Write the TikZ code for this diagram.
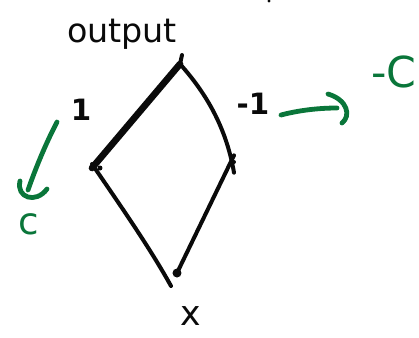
\documentclass[tikz,border=0pt]{standalone}
\usepackage{fontspec}
\setmainfont{DejaVu Sans}
\definecolor{ink}{RGB}{10,10,10}
\definecolor{grn}{RGB}{10,118,58}
\begin{document}
\begin{tikzpicture}[x=0.75pt,y=-0.75pt,
  edge/.style={draw=ink,line width=3pt,line cap=round},
  heavy/.style={draw=ink,line width=5pt,line cap=round},
  garrow/.style={draw=grn,line width=3.6pt,line cap=round},
  lbl/.style={inner sep=0pt,text=ink},
  glbl/.style={inner sep=0pt,text=grn}]
\useasboundingbox (0,0) rectangle (419,337);
% vertices
\coordinate (top) at (180,64);
\coordinate (left) at (92,168);
\coordinate (right) at (234,162);
\coordinate (bot) at (177,273);
% edges
\draw[heavy] (top) -- (left);
\draw[edge] (top) .. controls (205,92) and (226,126) .. ([yshift=-8]right);
\draw[edge] ([yshift=5]right) -- (bot);
\draw[edge] ([yshift=3]left) .. controls (120,205) and (150,248) .. (171,286);
% vertex marks
\fill[ink] (bot) circle (4.5);
\fill[ink] ([xshift=6]left) circle (2.5);
\fill[ink] (right) circle (2);
\draw[edge] (182,55) -- (top);
\fill[ink] (269,1) circle (1.6);
% labels
\node[lbl,font=\fontsize{25}{25}\selectfont] (out) at (122,34) {output};
\node[lbl,font=\bfseries\fontsize{22}{22}\selectfont] (one) at (81,110) {1};
\node[lbl,font=\bfseries\fontsize{22}{22}\selectfont] (mone) at (253,104) {-1};
\node[lbl,font=\fontsize{26}{26}\selectfont] (xx) at (191,316) {x};
\node[glbl,font=\fontsize{28}{28}\selectfont] (gc) at (29,224) {c};
\node[glbl,font=\fontsize{32}{32}\selectfont] (gmc) at (394,72) {-C};
% green arrows
\coordinate (a1s) at (57,122);
\coordinate (a1e) at (28,190);
\draw[garrow] (a1s) .. controls (45,145) and (35,170) .. (a1e);
\draw[garrow] (20,181) .. controls (16,198) and (36,204) .. (47,189);
\coordinate (a2s) at (281,115);
\coordinate (a2e) at (337,108);
\draw[garrow] (a2s) .. controls (300,110) and (320,108) .. (a2e);
\draw[garrow] (328,94) .. controls (348,100) and (351,116) .. (342,123);
\end{tikzpicture}
\end{document}
